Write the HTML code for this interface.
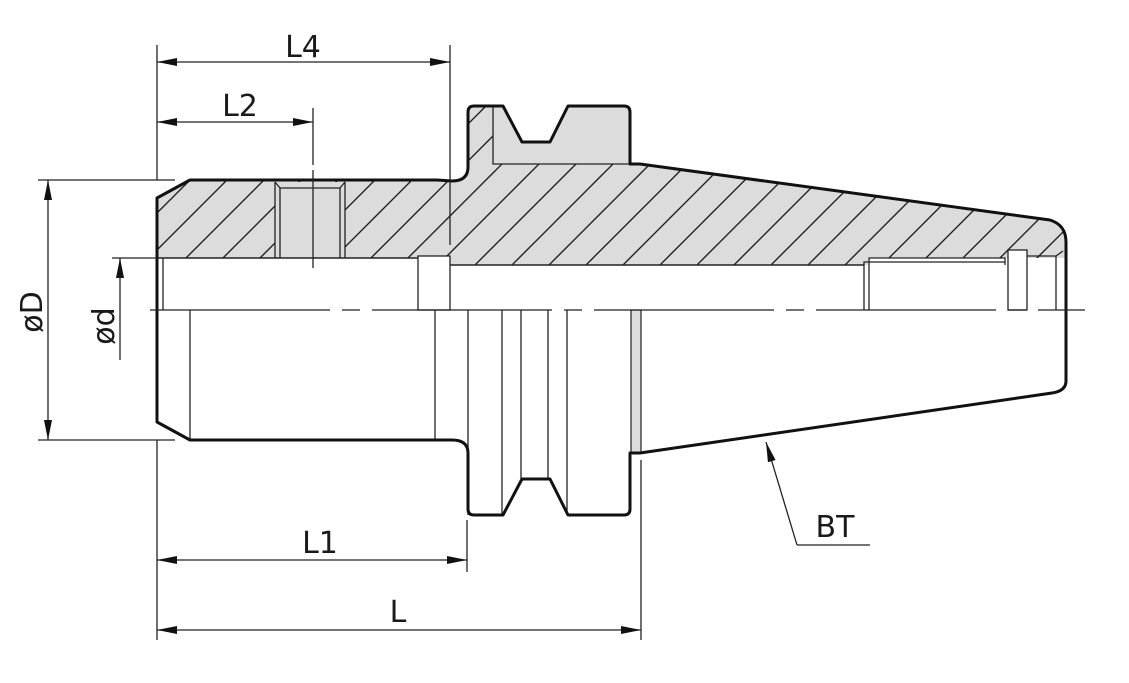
<!DOCTYPE html>
<html><head><meta charset="utf-8"><style>
html,body{margin:0;padding:0;background:#fff;width:1129px;height:683px;overflow:hidden}
svg{display:block}
text{font-family:"DejaVu Sans","Liberation Sans",sans-serif;fill:#1a1a1a}
</style></head><body>
<svg width="1129" height="683" viewBox="0 0 1129 683" xmlns="http://www.w3.org/2000/svg">
<defs>
<pattern id="h" patternUnits="userSpaceOnUse" width="37" height="37">
<path d="M-5,42 L42,-5 M-5,5 L5,-5 M32,42 L42,32" stroke="#222" stroke-width="1.4"/>
</pattern>
<marker id="a" viewBox="0 0 20 8" refX="20" refY="4" markerWidth="26" markerHeight="8" markerUnits="userSpaceOnUse" orient="auto-start-reverse">
<path d="M0,0 L20,4 L0,8 Z" fill="#111"/>
</marker>
</defs>

<!-- upper section gray + hatch -->
<path id="sec" d="M157,198 L190,180 L437,180 L452,181 Q468,181 468,167 L468,112 Q468,106 474,106 L503,106 L522,142 L550,142 L568,106 L624,106 Q630,106 630,112 L630,164 L640,164 L1050,220 Q1066,225 1066,242 L1066,265 L450,265 L450,258 L157,258 Z" fill="#dcdcdc"/>
<path d="M157,198 L190,180 L437,180 L452,181 Q468,181 468,167 L468,112 Q468,106 474,106 L503,106 L522,142 L550,142 L568,106 L624,106 Q630,106 630,112 L630,164 L640,164 L1050,220 Q1066,225 1066,242 L1066,265 L450,265 L450,258 L157,258 Z" fill="url(#h)"/>
<!-- non-hatched parts -->
<path d="M493,164 L493,106 L503,106 L522,142 L550,142 L568,106 L624,106 Q630,106 630,112 L630,164 Z" fill="#dcdcdc" stroke="#222" stroke-width="1.3"/>
<rect x="275" y="182" width="70" height="76" fill="#dcdcdc"/>
<path d="M275,182 L275,258 M280,188 L280,258 M340,188 L340,258 M345,182 L345,258 M280,188 L340,188 M275,182 L280,188 M345,182 L340,188" stroke="#222" stroke-width="1.3" fill="none"/>
<!-- bore slot white -->
<rect x="418" y="256" width="32" height="54" fill="#fff" stroke="#222" stroke-width="1.3"/>
<!-- right thread area -->
<rect x="868" y="258" width="198" height="52" fill="#fff"/>
<path d="M864,310 L864,262 L1005,262 M869,310 L869,258 L1005,258 L1005,265" stroke="#222" stroke-width="1.3" fill="none"/>
<rect x="1008" y="250" width="19" height="60" fill="#fff" stroke="#222" stroke-width="1.3"/>
<path d="M1027,256 L1056,256 L1063,251 M1056,256 L1056,310" stroke="#222" stroke-width="1.3" fill="none"/>
<path d="M1027,264 L1066,264" stroke="#fff" stroke-width="0"/>
<!-- bore line -->
<path d="M157,258 L418,258 M450,265 L864,265" stroke="#222" stroke-width="1.5"/>
<path d="M163,258 L163,310" stroke="#222" stroke-width="1.3"/>

<!-- lower gray stripe -->
<rect x="631" y="310" width="10" height="143" fill="#dcdcdc" stroke="#222" stroke-width="1.2"/>
<!-- lower details -->
<path d="M190,310 L190,440 M435,310 L435,440 M468,310 L468,515 M502,310 L502,515 M521,310 L521,479 M548,310 L548,479 M567,310 L567,515" stroke="#222" stroke-width="1.3" fill="none"/>

<!-- outline -->
<path d="M157,198 L190,180 L437,180 L452,181 Q468,181 468,167 L468,112 Q468,106 474,106 L503,106 L522,142 L550,142 L568,106 L624,106 Q630,106 630,112 L630,164 L640,164 L1050,220 Q1066,225 1066,242 L1066,381 Q1066,391 1052,393 L640,453 L630,453 L630,509 Q630,515 624,515 L568,515 L550,479 L522,479 L503,515 L474,515 Q468,515 468,509 L468,453 Q468,440 452,440 L190,440 L157,422 Z" fill="none" stroke="#111" stroke-width="3" stroke-linejoin="round"/>

<!-- centerline -->
<path d="M150,310 L1085,310" stroke="#222" stroke-width="1.3" stroke-dasharray="180,12,18,12"/>

<!-- dimensions -->
<g stroke="#222" stroke-width="1.3" fill="none">
<path d="M157,45 L157,180 M157,440 L157,640 M450,45 L450,245 M313,108 L313,165 M313,170 L313,268 M467,520 L467,572 M641,460 L641,640"/>
<path d="M157,62 L450,62" marker-start="url(#a)" marker-end="url(#a)"/>
<path d="M157,122 L313,122" marker-start="url(#a)" marker-end="url(#a)"/>
<path d="M157,560 L467,560" marker-start="url(#a)" marker-end="url(#a)"/>
<path d="M157,630 L641,630" marker-start="url(#a)" marker-end="url(#a)"/>
<path d="M38,180 L175,180 M38,440 L175,440 M112,258 L157,258"/>
<path d="M48,180 L48,440" marker-start="url(#a)" marker-end="url(#a)"/>
<path d="M120,360 L120,258" marker-end="url(#a)"/>
<path d="M797,545 L766,442" marker-end="url(#a)"/>
<path d="M797,545 L870,545"/>
</g>
<g font-size="30">
<text x="303" y="57" text-anchor="middle">L4</text>
<text x="240" y="116" text-anchor="middle">L2</text>
<text x="320" y="553" text-anchor="middle">L1</text>
<text x="398" y="622" text-anchor="middle">L</text>
<text x="835" y="537" text-anchor="middle">BT</text>
<text transform="translate(42,312) rotate(-90)" text-anchor="middle">øD</text>
<text transform="translate(114,326) rotate(-90)" text-anchor="middle">ød</text>
</g>
</svg>
</body></html>
